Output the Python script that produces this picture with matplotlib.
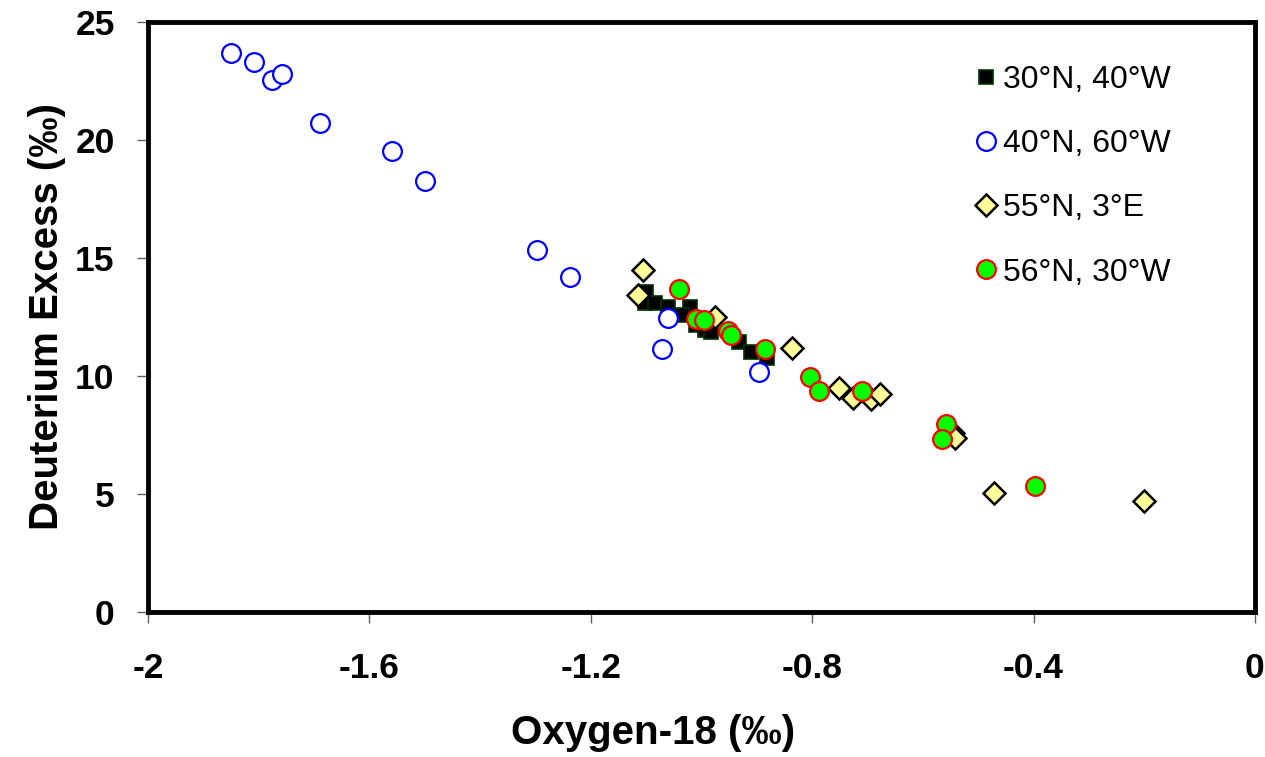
import matplotlib
matplotlib.use("Agg")
import matplotlib.pyplot as plt

plt.rcParams['font.family'] = ['Liberation Sans', 'DejaVu Sans']

# 30N, 40W
sq_x = [-1.100, -1.102, -1.084, -1.061, -1.021, -1.036, -1.009, -0.994, -0.982, -0.933, -0.910, -0.882]
sq_y = [13.57, 13.08, 13.08, 12.94, 12.94, 12.58, 12.16, 11.95, 11.88, 11.45, 11.03, 10.75]

# 40N, 60W
bl_x = [-1.850, -1.808, -1.776, -1.758, -1.689, -1.559, -1.500, -1.297, -1.238, -1.061, -1.071, -0.896]
bl_y = [23.69, 23.30, 22.54, 22.80, 20.72, 19.53, 18.26, 15.34, 14.19, 12.46, 11.14, 10.17]

# 55N, 3E
di_x = [-1.106, -1.114, -0.976, -0.837, -0.751, -0.726, -0.693, -0.677, -0.545, -0.542, -0.471, -0.200]
di_y = [14.49, 13.43, 12.51, 11.17, 9.50, 9.05, 9.02, 9.24, 7.60, 7.36, 5.06, 4.70]

# 56N, 30W
gr_x = [-1.040, -1.010, -0.995, -0.952, -0.947, -0.885, -0.803, -0.788, -0.709, -0.559, -0.566, -0.397]
gr_y = [13.67, 12.41, 12.37, 11.91, 11.74, 11.14, 9.97, 9.36, 9.38, 7.95, 7.33, 5.35]

labels = ['30°N, 40°W', '40°N, 60°W', '55°N, 3°E', '56°N, 30°W']

fig = plt.figure(figsize=(12.65, 7.57), dpi=100)
ax = fig.add_axes([0.117, 0.1915, 0.875, 0.7795])

ax.plot(sq_x, sq_y, 's', ms=9.5, mfc='black', mec='#003300', mew=1.2, label=labels[0], ls='none')
ax.plot(bl_x, bl_y, 'o', ms=13.5, mfc='white', mec='#0000FF', mew=1.6, label=labels[1], ls='none')
ax.plot(di_x, di_y, 'D', ms=11, mfc='#FFFF99', mec='black', mew=1.8, label=labels[2], ls='none')
ax.plot(gr_x, gr_y, 'o', ms=13.5, mfc='#00FF00', mec='#FF0000', mew=1.6, label=labels[3], ls='none')

ax.set_xlim(-2, 0)
ax.set_ylim(0, 25)
ax.set_xticks([-2, -1.6, -1.2, -0.8, -0.4, 0])
ax.set_xticklabels(['-2', '-1.6', '-1.2', '-0.8', '-0.4', '0'])
ax.set_yticks([0, 5, 10, 15, 20, 25])

for s in ax.spines.values():
    s.set_linewidth(3.5)
    s.set_color('black')

ax.tick_params(direction='out', length=8, width=1, color='#606060', labelsize=25.5)
ax.tick_params(axis='x', pad=21)
ax.tick_params(axis='y', pad=16)
for t in ax.get_xticklabels() + ax.get_yticklabels():
    t.set_fontweight('bold')

ax.set_xlabel('Oxygen-18 (‰)', fontsize=29, fontweight='bold')
ax.set_ylabel('Deuterium Excess (‰)', fontsize=29, fontweight='bold')
ax.xaxis.set_label_coords(0.456, -0.172)
ax.yaxis.set_label_coords(-0.074, 0.50)

leg = ax.legend(loc='upper left', bbox_to_anchor=(976 / 1265, 1 - 65 / 757),
                bbox_transform=fig.transFigure, frameon=False, fontsize=23,
                handletextpad=0.25, labelspacing=1.07, handlelength=0.6,
                borderpad=0, borderaxespad=0)

fig.savefig('out.png', dpi=100)
